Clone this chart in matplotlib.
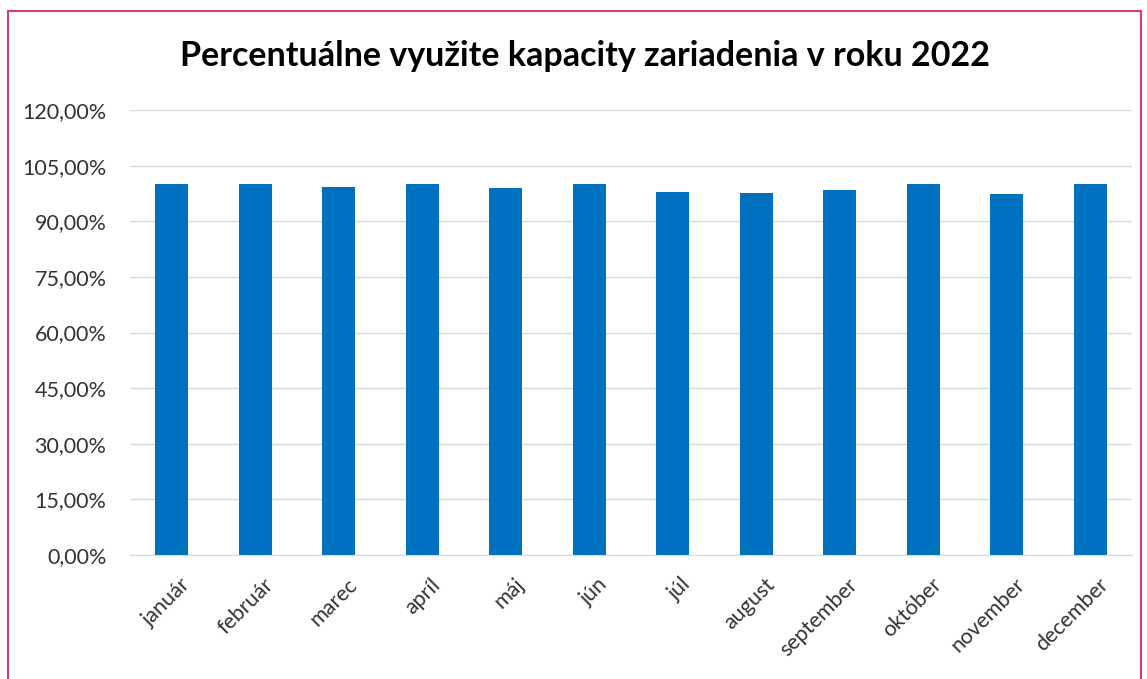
import matplotlib
matplotlib.use("Agg")
import matplotlib.pyplot as plt
from matplotlib.patches import Rectangle
from matplotlib.ticker import FuncFormatter

# monthly utilisation in percent
months = ["január", "február", "marec", "apríl", "máj", "jún",
          "júl", "august", "september", "október", "november", "december"]
utilisation = [100.0, 100.0, 99.3, 100.0, 98.9, 100.0,
               98.0, 97.5, 98.4, 100.0, 97.4, 100.0]
yticks = [0, 15, 30, 45, 60, 75, 90, 105, 120]

plt.rcParams['font.family'] = ['Lato', 'DejaVu Sans']

fig = plt.figure(figsize=(11.47, 6.79), dpi=100)
ax = fig.add_axes([130/1147, 1 - 555/679, (1132-130)/1147, (555-110)/679])

x = range(len(months))
ax.bar(x, utilisation, width=0.4, color="#0070c0", zorder=2)

ax.set_xlim(-0.5, len(months) - 0.5)
ax.set_ylim(0, 120)
ax.set_yticks(yticks)
ax.yaxis.set_major_formatter(FuncFormatter(lambda v, p: ("%.2f%%" % v).replace(".", ",")))
ax.set_xticks(list(x))
ax.set_xticklabels(months, rotation=45, ha="right", rotation_mode="anchor")
ax.tick_params(axis="both", length=0, labelsize=15.5, colors="#333333")
ax.tick_params(axis="y", pad=17)
ax.tick_params(axis="x", pad=14)
for lbl in ax.get_xticklabels():
    lbl.set_transform(lbl.get_transform() + matplotlib.transforms.ScaledTranslation(8/100, 0, fig.dpi_scale_trans))

ax.grid(axis="y", color="#d9d9d9", linewidth=1, zorder=0)
for s in ["top", "right", "left"]:
    ax.spines[s].set_visible(False)
ax.spines["bottom"].set_color("#d9d9d9")

fig.text(585/1147, 1 - 56/679, "Percentuálne využite kapacity zariadenia v roku 2022",
         ha="center", va="center", fontsize=24.5, fontweight="bold", color="black")

# outer frame of the chart
fig.patches.append(Rectangle((8/1147, -0.05), (1141-8)/1147, 1 - 11/679 + 0.05,
                             transform=fig.transFigure, fill=False,
                             edgecolor="#d6406e", linewidth=1.5))

fig.savefig("out.png", dpi=100)
